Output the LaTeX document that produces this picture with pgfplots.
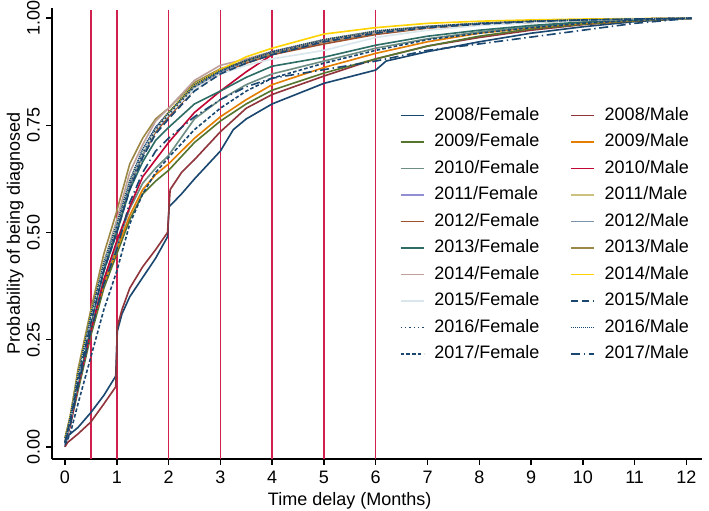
\documentclass[border=0pt]{standalone}
\usepackage{fontspec}
\setmainfont{Liberation Sans}
\usepackage{pgfplots}
\usepackage{pgfplotstable}
\pgfplotsset{compat=1.18}
\definecolor{snavy}{HTML}{1A476F}
\definecolor{smaroon}{HTML}{90353B}
\definecolor{sfgreen}{HTML}{55752F}
\definecolor{sdkorange}{HTML}{E37E00}
\definecolor{steal}{HTML}{6E8E84}
\definecolor{scranberry}{HTML}{C10534}
\definecolor{slavender}{HTML}{938DD2}
\definecolor{skhaki}{HTML}{CAC27E}
\definecolor{ssienna}{HTML}{A0522D}
\definecolor{semidblue}{HTML}{7B92A8}
\definecolor{semerald}{HTML}{2D6D66}
\definecolor{sbrown}{HTML}{9C8847}
\definecolor{serose}{HTML}{BFA19C}
\definecolor{sgold}{HTML}{FFD200}
\definecolor{sbluishgray}{HTML}{D9E6EB}
\definecolor{refred}{HTML}{D0204E}

\pgfplotstableread{
x     gA    oA    tA    rA    lA    kA    sA    eA    mA    bA    pA    yA    qA    dA    fA    hA    jA    zA
0     0.01  0.01  0.01  0.01  0.01  0.02  0.01  0.01  0.01  0.02  0.01  0.02  0.01  0.01  0.01  0.02  0.005 0.01
0.1   0.05  0.05  0.05  0.05  0.06  0.06  0.06  0.06  0.06  0.07  0.06  0.07  0.06  0.06  0.06  0.07  0.03  0.05
0.25  0.13  0.14  0.14  0.14  0.16  0.16  0.16  0.15  0.15  0.18  0.16  0.17  0.16  0.15  0.16  0.17  0.10  0.14
0.5   0.26  0.27  0.27  0.27  0.30  0.30  0.29  0.29  0.29  0.32  0.30  0.31  0.30  0.29  0.30  0.31  0.21  0.27
0.75  0.37  0.38  0.39  0.39  0.43  0.42  0.42  0.42  0.41  0.45  0.43  0.43  0.43  0.41  0.42  0.43  0.32  0.38
1     0.45  0.46  0.47  0.48  0.52  0.51  0.51  0.51  0.50  0.55  0.53  0.52  0.52  0.50  0.51  0.52  0.41  0.46
1.25  0.53  0.54  0.555 0.56  0.62  0.61  0.61  0.61  0.60  0.66  0.64  0.62  0.62  0.60  0.61  0.62  0.52  0.57
1.5   0.59  0.60  0.615 0.63  0.69  0.68  0.68  0.68  0.665 0.72  0.705 0.69  0.69  0.675 0.685 0.695 0.59  0.64
1.75  0.62  0.635 0.65  0.67  0.745 0.74  0.735 0.74  0.715 0.765 0.76  0.74  0.74  0.73  0.74  0.745 0.64  0.69
2     0.645 0.66  0.68  0.71  0.78  0.775 0.77  0.775 0.745 0.79  0.79  0.78  0.775 0.765 0.775 0.78  0.675 0.72
2.5   0.71  0.72  0.765 0.78  0.84  0.84  0.835 0.84  0.80  0.85  0.855 0.845 0.835 0.83  0.84  0.845 0.74  0.77
3     0.76  0.77  0.81  0.83  0.875 0.878 0.87  0.875 0.83  0.882 0.89  0.88  0.87  0.87  0.875 0.878 0.79  0.81
3.5   0.80  0.81  0.845 0.875 0.90  0.902 0.895 0.90  0.862 0.90  0.905 0.91  0.89  0.895 0.90  0.902 0.83  0.84
4     0.832 0.845 0.87  0.915 0.92  0.922 0.915 0.918 0.888 0.92  0.922 0.93  0.905 0.915 0.92  0.922 0.86  0.86
5     0.872 0.885 0.90  0.945 0.945 0.95  0.94  0.945 0.909 0.945 0.947 0.963 0.925 0.945 0.948 0.95  0.895 0.88
6     0.905 0.918 0.93  0.965 0.968 0.97  0.962 0.966 0.937 0.965 0.966 0.978 0.955 0.965 0.968 0.97  0.925 0.90
7     0.935 0.945 0.952 0.978 0.98  0.981 0.977 0.979 0.958 0.978 0.978 0.988 0.972 0.978 0.98  0.981 0.95  0.925
8     0.958 0.965 0.968 0.986 0.987 0.988 0.985 0.987 0.972 0.985 0.986 0.993 0.983 0.986 0.988 0.988 0.965 0.94
9     0.975 0.978 0.98  0.992 0.992 0.993 0.991 0.992 0.983 0.99  0.992 0.996 0.99  0.992 0.993 0.993 0.978 0.956
10    0.986 0.988 0.99  0.996 0.996 0.996 0.995 0.996 0.991 0.995 0.996 0.998 0.995 0.996 0.996 0.996 0.988 0.972
11    0.994 0.995 0.996 0.998 0.998 0.998 0.998 0.998 0.996 0.998 0.998 0.999 0.998 0.998 0.998 0.998 0.995 0.988
12.1  1     1     1     1     1     1     1     1     1     1     1     1     1     1     1     1     1     1
}\curves

\begin{document}
\begin{tikzpicture}
\begin{axis}[
  scale only axis, width=360.8pt, height=250.3pt,
  xmin=-0.25, xmax=12.3, ymin=-0.028, ymax=1.024,
  axis x line*=bottom, axis y line*=left,
  axis line style={line width=0.85pt, -},
  xtick={0,1,...,12}, ytick={0,0.25,0.5,0.75,1},
  tick align=outside, major tick length=3.3pt,
  tick style={line width=0.8pt, black},
  font=\fontsize{10}{12}\selectfont,
  /pgf/number format/assume math mode=true,
  yticklabel style={rotate=90, anchor=south, /pgf/number format/.cd, fixed, fixed zerofill, precision=2},
  xlabel={Time delay (Months)}, ylabel={Probability of being diagnosed},
  xlabel style={at={(rel axis cs:0.458,0)}, anchor=north, yshift=-15pt},
  ylabel style={yshift=-5pt},
  legend columns=2, legend cell align=left,
  legend style={at={(rel axis cs:0.535,0.781)}, anchor=north west, draw=none, fill=none,
    inner sep=0pt, outer sep=0pt, row sep=4.7pt,
    nodes={inner sep=0pt, text height=7.5pt, text depth=2.5pt},
    /tikz/every odd column/.append style={column sep=5.5pt},
    /tikz/every even column/.append style={column sep=17pt}},
  legend image code/.code={\draw[#1] (0cm,0cm) -- (0.45cm,0cm);},
  every axis plot/.append style={line width=0.9pt, sharp plot},
]
\pgfplotsinvokeforeach{0.5,1,2,3,4,5,6}{
  \addplot[forget plot, refred, line width=0.85pt] coordinates {(#1,-0.028) (#1,1.02)};
}
\addplot[snavy] coordinates {(0,0)(0.05,0.025)(0.25,0.045)(0.5,0.08)(0.75,0.12)(0.98,0.165)(1.01,0.27)(1.1,0.31)(1.25,0.35)(1.5,0.395)(1.75,0.44)(1.98,0.49)(2.01,0.56)(2.25,0.59)(2.5,0.625)(3,0.69)(3.25,0.74)(3.5,0.765)(4,0.80)(5,0.848)(6,0.879)(6.2,0.90)(7,0.922)(8,0.945)(9,0.965)(10,0.98)(11,0.992)(12.1,1)};
\addlegendentry{2008/Female}
\addplot[smaroon] coordinates {(0,0)(0.05,0.01)(0.25,0.03)(0.5,0.058)(0.75,0.10)(0.98,0.14)(1.01,0.28)(1.1,0.32)(1.25,0.37)(1.5,0.42)(1.75,0.46)(1.98,0.50)(2.03,0.60)(2.25,0.64)(2.5,0.67)(3,0.735)(3.5,0.79)(4,0.822)(5,0.865)(6,0.905)(7,0.935)(8,0.955)(9,0.972)(10,0.985)(11,0.994)(12.1,1)};
\addlegendentry{2008/Male}
\addplot[sfgreen] table[x=x,y=gA] {\curves}; \addlegendentry{2009/Female}
\addplot[sdkorange] table[x=x,y=oA] {\curves}; \addlegendentry{2009/Male}
\addplot[steal] table[x=x,y=tA] {\curves}; \addlegendentry{2010/Female}
\addplot[scranberry] table[x=x,y=rA] {\curves}; \addlegendentry{2010/Male}
\addplot[slavender] table[x=x,y=lA] {\curves}; \addlegendentry{2011/Female}
\addplot[skhaki] table[x=x,y=kA] {\curves}; \addlegendentry{2011/Male}
\addplot[ssienna] table[x=x,y=sA] {\curves}; \addlegendentry{2012/Female}
\addplot[semidblue] table[x=x,y=eA] {\curves}; \addlegendentry{2012/Male}
\addplot[semerald] table[x=x,y=mA] {\curves}; \addlegendentry{2013/Female}
\addplot[sbrown] table[x=x,y=bA] {\curves}; \addlegendentry{2013/Male}
\addplot[serose] table[x=x,y=pA] {\curves}; \addlegendentry{2014/Female}
\addplot[sgold] table[x=x,y=yA] {\curves}; \addlegendentry{2014/Male}
\addplot[sbluishgray] table[x=x,y=qA] {\curves}; \addlegendentry{2015/Female}
\addplot[snavy, dash pattern=on 4pt off 2pt] table[x=x,y=dA] {\curves}; \addlegendentry{2015/Male}
\addplot[snavy, dash pattern=on 0.8pt off 1.6pt] table[x=x,y=fA] {\curves}; \addlegendentry{2016/Female}
\addplot[snavy, dash pattern=on 0.6pt off 0.5pt] table[x=x,y=hA] {\curves}; \addlegendentry{2016/Male}
\addplot[snavy, dash pattern=on 2pt off 1.2pt] table[x=x,y=jA] {\curves}; \addlegendentry{2017/Female}
\addplot[snavy, dash pattern=on 5pt off 2pt on 0.8pt off 2pt] table[x=x,y=zA] {\curves}; \addlegendentry{2017/Male}
\end{axis}
\pgfresetboundingbox
\path[use as bounding box] ([xshift=-28.9pt,yshift=-28.9pt]current axis.south west) rectangle ([xshift=3.9pt,yshift=4.4pt]current axis.north east);
\end{tikzpicture}
\end{document}
